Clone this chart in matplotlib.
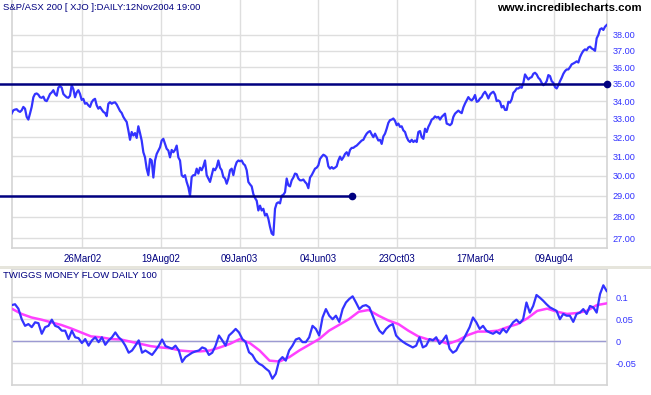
import numpy as np
import matplotlib
matplotlib.use("Agg")
from matplotlib import pyplot as plt
from matplotlib.patches import Rectangle
from matplotlib.ticker import FixedLocator, NullLocator

# S&P/ASX 200 daily close (about every 2 trading days)
price = [
    33.30, 33.48, 33.52, 33.54, 33.44, 33.39, 33.48, 33.67, 33.57, 33.11,
    32.96, 33.30, 33.67, 34.22, 34.41, 34.44, 34.37, 34.22, 34.19, 34.26,
    34.04, 34.00, 34.19, 34.41, 34.50, 34.63, 34.41, 34.31, 34.78, 34.87,
    34.78, 34.41, 34.31, 34.22, 34.19, 34.31, 34.93, 34.69, 34.22, 34.50,
    34.63, 34.41, 34.07, 34.13, 33.85, 33.89, 33.76, 33.67, 33.94, 34.07,
    34.13, 33.76, 33.57, 33.67, 33.52, 33.39, 33.33, 33.15, 33.85, 33.94,
    33.85, 33.91, 33.93, 33.81, 33.63, 33.44, 33.33, 33.11, 32.96, 32.83,
    32.37, 31.86, 32.28, 32.09, 32.22, 31.96, 32.59, 32.22, 31.82, 31.20,
    30.93, 30.35, 30.02, 30.85, 30.77, 29.90, 30.77, 31.11, 31.29, 31.46,
    31.82, 31.91, 31.64, 31.38, 31.29, 30.93, 31.32, 31.20, 31.32, 31.55,
    30.93, 30.77, 30.02, 29.93, 30.02, 29.68, 29.42, 29.00, 29.93, 30.02,
    30.02, 30.35, 30.10, 30.40, 30.27, 30.47, 30.77, 30.02, 29.85, 29.68,
    30.02, 30.35, 30.27, 30.43, 30.77, 30.40, 30.27, 29.93, 29.85, 29.59,
    29.85, 30.27, 30.35, 30.02, 30.43, 30.68, 30.77, 30.73, 30.77, 30.60,
    30.52, 30.27, 29.68, 29.56, 29.46, 29.08, 28.89, 28.76, 28.29, 28.52,
    28.29, 28.37, 28.05, 28.13, 27.90, 27.52, 27.22, 27.15, 28.37, 28.63,
    28.68, 28.63, 29.00, 29.05, 29.17, 29.85, 29.51, 29.46, 29.76, 29.90,
    30.10, 30.07, 29.85, 29.76, 29.76, 29.80, 29.68, 29.59, 29.37, 29.90,
    30.02, 30.18, 30.35, 30.40, 30.52, 30.85, 30.97, 31.07, 31.02, 30.93,
    30.47, 30.35, 30.43, 30.35, 30.40, 30.47, 30.77, 30.97, 30.80, 30.93,
    31.11, 31.20, 31.02, 31.32, 31.43, 31.43, 31.50, 31.55, 31.64, 31.73,
    31.82, 31.86, 32.04, 32.19, 32.28, 32.33, 32.15, 32.00, 32.19, 32.00,
    31.82, 31.86, 31.64, 32.04, 32.19, 32.46, 32.78, 32.93, 32.96, 33.02,
    32.89, 32.65, 32.74, 32.56, 32.59, 32.37, 32.28, 32.00, 31.82,
    31.74, 31.86, 31.74, 31.82, 31.74, 32.28, 32.33, 32.00, 31.91, 32.46,
    32.28, 32.56, 32.74, 32.96, 33.02, 33.14, 33.07, 33.11, 32.96, 33.11,
    33.20, 33.29, 32.74, 32.70, 32.65, 32.74, 33.11, 33.29, 33.38, 33.46,
    33.38, 33.32, 33.64, 33.86, 34.04, 34.23, 34.10, 34.04, 34.15, 34.35,
    33.96, 34.00, 34.15, 34.23, 34.42, 34.54, 34.38, 34.15, 34.38, 34.48,
    34.54, 34.38, 34.00, 34.04, 33.96, 33.64, 33.73, 33.50, 33.50, 33.96,
    33.91, 34.10, 34.48, 34.58, 34.73, 34.73, 34.81, 34.77, 35.06, 35.56,
    35.40, 35.26, 35.36, 35.40, 35.60, 35.66, 35.56, 35.36, 35.26, 35.06,
    34.92, 35.00, 35.16, 35.52, 35.46, 35.16, 35.06, 34.81, 34.73, 34.92,
    35.16, 35.36, 35.60, 35.76, 35.86, 35.86, 36.00, 36.17, 36.22, 36.28,
    36.35, 36.28, 36.61, 36.83, 37.00, 37.09, 37.04, 37.21, 37.26, 37.15,
    37.09, 37.00, 37.79, 38.00, 38.36, 38.43, 38.32, 38.53, 38.64,
]

# Twiggs Money Flow (100 day), read about every 4 trading days
tmf = [
    0.082, 0.084, 0.074, 0.050, 0.035, 0.039, 0.032, 0.043, 0.041, 0.017,
    0.032, 0.035, 0.049, 0.035, 0.032, 0.024, 0.024, 0.005, 0.024, 0.009,
    0.007, -0.004, 0.005, -0.010, 0.002, 0.009, -0.002, 0.009, -0.008, 0.002,
    0.009, 0.020, 0.009, 0.002, -0.010, -0.026, -0.021, -0.010, 0.002, -0.026,
    -0.021, -0.026, -0.031, -0.021, -0.010, 0.004, -0.011, -0.014, -0.017, -0.010,
    -0.021, -0.047, -0.036, -0.031, -0.026, -0.023, -0.021, -0.014, -0.017, -0.031,
    -0.026, -0.010, 0.013, 0.002, -0.010, 0.013, 0.020, 0.028, 0.020, 0.005,
    -0.002, -0.025, -0.031, -0.044, -0.051, -0.055, -0.062, -0.068, -0.085, -0.074,
    -0.044, -0.036, -0.044, -0.021, -0.010, 0.004, 0.007, -0.002,
    -0.002, 0.009, 0.035, 0.028, 0.013, 0.054, 0.073, 0.058, 0.050, 0.058,
    0.044, 0.073, 0.088, 0.096, 0.102, 0.088, 0.073, 0.080, 0.082, 0.077,
    0.058, 0.039, 0.024, 0.017, 0.028, 0.035, 0.039, 0.013, 0.005, -0.001,
    -0.006, -0.010, -0.014, -0.010, 0.009, -0.014, -0.010, 0.005, 0.002, 0.009,
    -0.006, 0.002, 0.013, -0.017, -0.026, -0.021, -0.006, 0.002, 0.017, 0.032,
    0.054, 0.043, 0.028, 0.035, 0.024, 0.020, 0.017, 0.022, 0.017, 0.028,
    0.020, 0.032, 0.043, 0.049, 0.041, 0.050, 0.088, 0.065, 0.080, 0.105,
    0.099, 0.092, 0.084, 0.077, 0.073, 0.069, 0.050, 0.062, 0.058, 0.058,
    0.044, 0.062, 0.065, 0.073, 0.062, 0.080, 0.077, 0.065, 0.107, 0.127,
    0.114,
]

# signal line (moving average of TMF), about every 12 trading days
tmf_ma = [
    0.074, 0.062, 0.054, 0.049, 0.043, 0.037, 0.029, 0.020, 0.011, 0.009,
    0.005, 0.004, -0.001, -0.006, -0.011, -0.014, -0.016, -0.021, -0.023, -0.023,
    -0.021, -0.014, -0.006, 0.005, -0.004, -0.021, -0.044, -0.046, -0.036, -0.021,
    -0.008, 0.005, 0.024, 0.037, 0.050, 0.067, 0.071, 0.058, 0.047, 0.039,
    0.024, 0.011, 0.004, 0.002, -0.006, 0.002, 0.014, 0.022, 0.022, 0.024,
    0.032, 0.039, 0.052, 0.069, 0.074, 0.067, 0.062, 0.064, 0.069, 0.082,
    0.086,
]

n_days = 758  # trading days shown
tick_days = [90, 190, 290, 390, 490, 590, 690]
tick_labels = ["26Mar02", "19Aug02", "09Jan03", "04Jun03", "23Oct03", "17Mar04", "09Aug04"]
price_ticks = [27, 28, 29, 30, 31, 32, 33, 34, 35, 36, 37, 38]
tmf_ticks = [0.1, 0.05, 0, -0.05]
tmf_tick_labels = ["0.1", "0.05", "0", "-0.05"]
support_levels = [35.0, 29.0]
support_ends = [757.4, 433]

BLUE = "#3333ff"
NAVY = "#000080"
GRID = "#dedede"
FONT = ["Liberation Sans", "DejaVu Sans"]

plt.rcParams["font.family"] = FONT

W, H = 651, 395
fig = plt.figure(figsize=(W / 100, H / 100), dpi=100)
fig.patch.set_facecolor("white")


def px_axes(left, top, right, bottom):
    return fig.add_axes([left / W, 1 - bottom / H, (right - left) / W, (bottom - top) / H])


xlim = (0.4, 757.4)

# ---- price panel ----
ax = px_axes(12, 0, 607, 248)
x_price = np.linspace(0, n_days - 1, len(price))
ax.plot(x_price, price, color=BLUE, lw=1.6, zorder=3)
for lvl, end in zip(support_levels, support_ends):
    ax.plot([-15, end], [lvl, lvl], color=NAVY, lw=1.8, clip_on=False, zorder=4)
    ax.plot([end], [lvl], "o", color=NAVY, ms=4.5, clip_on=False, zorder=5)

ax.set_yscale("log")
ax.set_ylim(26.56, 40.3)
ax.set_xlim(*xlim)
ax.yaxis.set_major_locator(FixedLocator(price_ticks))
ax.yaxis.set_minor_locator(NullLocator())
ax.set_yticklabels(["%.2f" % v for v in price_ticks])
ax.yaxis.tick_right()
ax.set_xticks(tick_days)
ax.set_xticklabels(tick_labels)
ax.tick_params(axis="y", length=0, pad=4, labelsize=6.6, labelcolor=BLUE)
ax.tick_params(axis="x", length=0, pad=4, labelsize=7, labelcolor=NAVY)
ax.grid(True, color=GRID, lw=1)
ax.set_axisbelow(True)
for side in ["left", "right", "bottom"]:
    ax.spines[side].set_color("#d4d4d4")
    ax.spines[side].set_linewidth(1.2)
ax.spines["top"].set_visible(False)

fig.text(3 / W, 1 - 8 / H, "S&P/ASX 200 [ XJO ]:DAILY:12Nov2004 19:00",
         fontsize=6.8, color=NAVY, ha="left", va="center")
fig.text(642 / W, 1 - 8 / H, "www.incrediblecharts.com",
         fontsize=8.2, fontweight="bold", color="black", ha="right", va="center")

# separator band between panels
fig.add_artist(Rectangle((0, 1 - 269 / H), 1, 3 / H, transform=fig.transFigure,
                         facecolor="#e6e5dc", edgecolor="none"))

# ---- money flow panel ----
ax2 = px_axes(12, 269, 607, 385)
x_tmf = np.linspace(0, n_days - 1, len(tmf))
x_ma = np.linspace(0, n_days - 1, len(tmf_ma))
ax2.plot(x_ma, tmf_ma, color="#ff40ff", lw=1.8, zorder=3)
ax2.plot(x_tmf, tmf, color=BLUE, lw=1.6, zorder=4)
ax2.axhline(0, color="#9c9ad2", lw=1, zorder=2)
ax2.set_xlim(*xlim)
ax2.set_ylim(-0.0993, 0.164)
ax2.set_yticks(tmf_ticks)
ax2.set_yticklabels(tmf_tick_labels)
ax2.yaxis.tick_right()
ax2.set_xticks(tick_days)
ax2.set_xticklabels([])
ax2.tick_params(axis="y", length=0, pad=6, labelsize=6.6, labelcolor=BLUE)
ax2.tick_params(axis="x", length=0)
ax2.grid(True, color=GRID, lw=1)
ax2.set_axisbelow(True)
for side in ["left", "right", "bottom", "top"]:
    ax2.spines[side].set_color("#d4d4d4")
    ax2.spines[side].set_linewidth(1.2)

fig.text(3 / W, 1 - 275 / H, "TWIGGS MONEY FLOW DAILY 100",
         fontsize=6.8, color=NAVY, ha="left", va="center")

fig.savefig("out.png", dpi=100)
